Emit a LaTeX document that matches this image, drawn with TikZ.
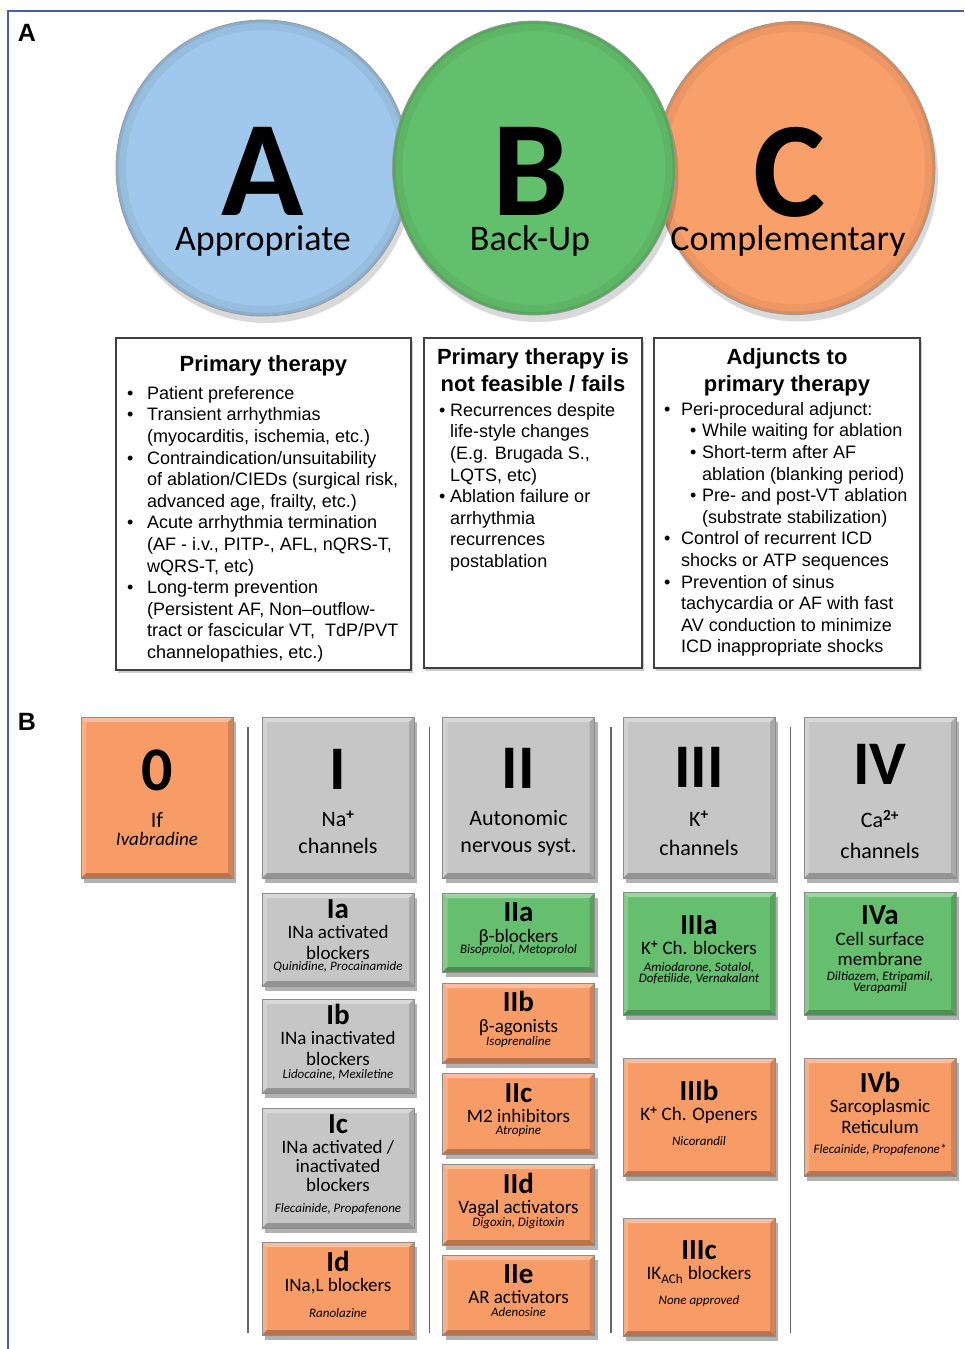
\documentclass[tikz,border=0pt]{standalone}
\usepackage{fontspec}
\setmainfont{Liberation Sans}
\newfontfamily\carlito{Carlito}
\usetikzlibrary{shapes.geometric,shadows,calc,positioning}

\definecolor{abcblue}{HTML}{A0C8EC}
\definecolor{abcgreen}{HTML}{62BF6B}
\definecolor{abcorange}{HTML}{F9A06A}
\definecolor{clsgrey}{HTML}{C6C6C6}
\definecolor{clsgreen}{HTML}{66BF6E}
\definecolor{clsorange}{HTML}{F89C67}
\definecolor{framecol}{HTML}{4A5EA8}

\newcommand\bul[1]{\makebox[#1][l]{•}}
\newcommand\clsnum[1]{{\fontsize{29}{29}\selectfont\bfseries #1}}
\newcommand\hdnum[1]{{\fontsize{62}{62}\selectfont\bfseries\rule{0pt}{49pt}#1}}
\newcommand\drug[1]{{\fontsize{13}{13.5}\selectfont\itshape #1}}
\newcommand\supb[1]{\textsuperscript{\bfseries #1}}

\begin{document}
\begin{tikzpicture}[x=1pt, y=-1pt,
    rim/.style={path picture={
        \draw[black, opacity=.05, line width=20pt] let \p1=(path picture bounding box.north east), \p2=(path picture bounding box.center) in (\p2) ellipse [x radius={\x1-\x2}, y radius={\y1-\y2}];
        \draw[black, opacity=.07, line width=6pt] let \p1=(path picture bounding box.north east), \p2=(path picture bounding box.center) in (\p2) ellipse [x radius={\x1-\x2}, y radius={\y1-\y2}];
    }},
    disc/.style={ellipse, inner sep=0pt, draw=black!40, line width=0.8pt, rim, drop shadow={shadow xshift=3pt, shadow yshift=-7pt, opacity=.15, fill=black}},
    bigletter/.style={font=\carlito\bfseries\fontsize{136}{136}\selectfont, anchor=base, inner sep=0pt},
    word/.style={font=\carlito\fontsize{36}{36}\selectfont, anchor=base, inner sep=0pt},
    panlabel/.style={font=\bfseries\fontsize{25}{25}\selectfont, inner sep=0pt},
    txtbox/.style={rectangle, draw=black!75, line width=1.2pt, fill=white, inner sep=0pt, drop shadow={shadow xshift=2pt, shadow yshift=-3pt, opacity=.2, fill=black}},
    boxtitle/.style={font=\bfseries\fontsize{22}{26.5}\selectfont, align=center, inner sep=0pt},
    boxbody/.style={font=\fontsize{18}{21.6}\selectfont, align=left, inner sep=0pt, anchor=north west},
    bevel/.style={path picture={
        \path (path picture bounding box.south west) coordinate (bsw)
              (path picture bounding box.south east) coordinate (bse)
              (path picture bounding box.north west) coordinate (bnw)
              (path picture bounding box.north east) coordinate (bne);
        \fill[white, opacity=.35] (bnw) -- (bne) -- ([shift={(-5pt,-5pt)}]bne) -- ([shift={(5pt,-5pt)}]bnw) -- cycle;
        \fill[white, opacity=.2] (bnw) -- (bsw) -- ([shift={(5pt,5pt)}]bsw) -- ([shift={(5pt,-5pt)}]bnw) -- cycle;
        \fill[black, opacity=.25] (bsw) -- (bse) -- ([shift={(-5pt,5pt)}]bse) -- ([shift={(5pt,5pt)}]bsw) -- cycle;
        \fill[black, opacity=.15] (bse) -- (bne) -- ([shift={(-5pt,-5pt)}]bne) -- ([shift={(-5pt,5pt)}]bse) -- cycle;
    }},
    clsbox/.style={rectangle, minimum width=152pt, inner sep=0pt, align=center, draw=black!45, line width=0.4pt, bevel, drop shadow={shadow xshift=3pt, shadow yshift=-5pt, opacity=.3, fill=black}},
    hdbox/.style={clsbox, minimum height=161pt, font=\carlito\fontsize{22}{27}\selectfont},
    subbox/.style={clsbox, font=\carlito\fontsize{19}{20.5}\selectfont, text depth=9pt},
    greybox/.style={fill=clsgrey},
    greenbox/.style={fill=clsgreen},
    orangebox/.style={fill=clsorange},
    sep/.style={draw=black!60, line width=1.6pt}
]
    \useasboundingbox[fill=white] (0,0) rectangle (964,1349);

    % frame
    \draw[framecol, line width=2pt] (8,1349) -- (8,11) -- (964,11);

    % panel A
    \node[panlabel] (labA) at (27,33) {A};

    \node[disc, fill=abcblue, minimum width=294pt, minimum height=296pt] (circA) at (263,168) {};
    \node[disc, fill=abcorange, minimum width=280pt, minimum height=293pt] (circC) at (795,168) {};
    \node[disc, fill=abcgreen, minimum width=283pt, minimum height=294pt] (circB) at (534,168) {};

    \node[bigletter] (letA) at (263,215) {A};
    \node[bigletter] (letB) at (531,215) {B};
    \node[bigletter] (letC) at (789,216) {C};
    \node[word] (wordA) at (263,250) {Appropriate};
    \node[word] (wordB) at (530,250) {Back-Up};
    \node[word] (wordC) at (788,250) {Complementary};

    % Primary therapy
    \node[txtbox, minimum width=295pt, minimum height=332pt] (primary) at (263.5,504) {};
    \node[boxtitle, below=18pt of primary.north] (primaryT) {Primary therapy};
    \node[boxbody] (primaryL) at (127,386) {
        \bul{20pt}Patient preference\\
        \bul{20pt}Transient arrhythmias\\
        \hspace*{20pt}(myocarditis, ischemia, etc.)\\
        \bul{20pt}Contraindication/unsuitability\\
        \hspace*{20pt}of ablation/CIEDs (surgical risk,\\
        \hspace*{20pt}advanced age, frailty, etc.)\\
        \bul{20pt}Acute arrhythmia termination\\
        \hspace*{20pt}(AF - i.v., PITP-, AFL, nQRS-T,\\
        \hspace*{20pt}wQRS-T, etc)\\
        \bul{20pt}Long-term prevention\\
        \hspace*{20pt}(Persistent AF, Non--outflow-\\
        \hspace*{20pt}tract or fascicular VT,\ \ TdP/PVT\\
        \hspace*{20pt}channelopathies, etc.)
    };

    % Primary therapy not feasible
    \node[txtbox, minimum width=218pt, minimum height=330pt] (notfeas) at (533,503) {};
    \node[boxtitle, below=11pt of notfeas.north] (notfeasT) {Primary therapy is\\not feasible / fails};
    \node[boxbody] (notfeasL) at (439,403) {
        \bul{11pt}Recurrences despite\\
        \hspace*{11pt}life-style changes\\
        \hspace*{11pt}(E.g. Brugada S.,\\
        \hspace*{11pt}LQTS, etc)\\
        \bul{11pt}Ablation failure or\\
        \hspace*{11pt}arrhythmia\\
        \hspace*{11pt}recurrences\\
        \hspace*{11pt}postablation
    };

    % Adjuncts
    \node[txtbox, minimum width=266pt, minimum height=330pt] (adjunct) at (787,503) {};
    \node[boxtitle, below=11pt of adjunct.north] (adjunctT) {Adjuncts to\\primary therapy};
    \node[boxbody] (adjunctL) at (664,402) {
        \bul{17pt}Peri-procedural adjunct:\\
        \hspace*{26pt}\bul{12pt}While waiting for ablation\\
        \hspace*{26pt}\bul{12pt}Short-term after AF\\
        \hspace*{38pt}ablation (blanking period)\\
        \hspace*{26pt}\bul{12pt}Pre- and post-VT ablation\\
        \hspace*{38pt}(substrate stabilization)\\
        \bul{17pt}Control of recurrent ICD\\
        \hspace*{17pt}shocks or ATP sequences\\
        \bul{17pt}Prevention of sinus\\
        \hspace*{17pt}tachycardia or AF with fast\\
        \hspace*{17pt}AV conduction to minimize\\
        \hspace*{17pt}ICD inappropriate shocks
    };

    % panel B
    \node[panlabel] (labB) at (27,722) {B};
    \foreach \sx in {248,429.5,611,790.5}
        \draw[sep] (\sx,727) -- (\sx,1333);

    % class headers
    \node[hdbox, orangebox] (cls0) at (157,797.5) {{\fontsize{62}{62}\selectfont\bfseries 0}\\[10pt]If\\[-9pt]{\fontsize{19}{20}\selectfont\itshape Ivabradine}};
    \node[hdbox, greybox] (clsI) at (338,797.5) {\hdnum{I}\\[10pt]Na\supb{+}\\channels};
    \node[hdbox, greybox] (clsII) at (518.5,797.5) {\hdnum{II}\\[10pt]Autonomic\\nervous syst.};
    \node[hdbox, greybox] (clsIII) at (699,797.5) {\hdnum{III}\\[12pt]K\supb{+}\\[2pt]channels};
    \node[hdbox, greybox] (clsIV) at (880,797.5) {\hdnum{IV}\\[16pt]Ca\supb{2+}\\[4pt]channels};

    % class I
    \node[subbox, greybox, minimum height=93pt] (clsIa) at (338,939.5) {\clsnum{Ia}\\INa activated\\blockers\\[-9pt]\drug{Quinidine, Procainamide}};
    \node[subbox, greybox, minimum height=94pt] (clsIb) at (338,1046) {\clsnum{Ib}\\INa inactivated\\blockers\\[-7pt]\drug{Lidocaine, Mexiletine}};
    \node[subbox, greybox, minimum height=120pt] (clsIc) at (338,1168) {\clsnum{Ic}\\INa activated /\\[-1.5pt]inactivated\\[-1.5pt]blockers\\\drug{Flecainide, Propafenone}};
    \node[subbox, orangebox, minimum height=93pt] (clsId) at (338,1288.5) {\clsnum{Id}\\INa,L blockers\\[5pt]\drug{Ranolazine}};

    % class II
    \node[subbox, greenbox, minimum height=79pt] (clsIIa) at (518.5,932.5) {\clsnum{IIa}\\β-blockers\\[-9.5pt]\drug{Bisoprolol, Metoprolol}};
    \node[subbox, orangebox, minimum height=80pt] (clsIIb) at (518.5,1023) {\clsnum{IIb}\\β-agonists\\[-7.5pt]\drug{Isoprenaline}};
    \node[subbox, orangebox, minimum height=81pt] (clsIIc) at (518.5,1113.5) {\clsnum{IIc}\\M2 inhibitors\\[-8.5pt]\drug{Atropine}};
    \node[subbox, orangebox, minimum height=81pt] (clsIId) at (518.5,1204.5) {\clsnum{IId}\\Vagal activators\\[-7.5pt]\drug{Digoxin, Digitoxin}};
    \node[subbox, orangebox, minimum height=80pt] (clsIIe) at (518.5,1295) {\clsnum{IIe}\\AR activators\\[-7.5pt]\drug{Adenosine}};

    % class III
    \node[subbox, greenbox, minimum height=123pt] (clsIIIa) at (699,953.5) {\clsnum{IIIa}\\K\supb{+} Ch. blockers\\[-3.5pt]\drug{Amiodarone, Sotalol,}\\[-9.5pt]\drug{Dofetilide, Vernakalant}};
    \node[subbox, orangebox, minimum height=118pt] (clsIIIb) at (699,1117) {\clsnum{IIIb}\\K\supb{+} Ch. Openers\\[4pt]\drug{Nicorandil}};
    \node[subbox, orangebox, minimum height=118pt] (clsIIIc) at (699,1277) {\clsnum{IIIc}\\IK\textsubscript{ACh} blockers\\[4pt]\drug{None approved}};

    % class IV
    \node[subbox, greenbox, minimum height=123pt] (clsIVa) at (880,953.5) {\clsnum{IVa}\\Cell surface\\membrane\\[-5.5pt]\drug{Diltiazem, Etripamil,}\\[-9.5pt]\drug{Verapamil}};
    \node[subbox, orangebox, minimum height=118pt] (clsIVb) at (880,1117) {\clsnum{IVb}\\Sarcoplasmic\\Reticulum\\[-0.5pt]\drug{Flecainide, Propafenone*}};
\end{tikzpicture}
\end{document}
